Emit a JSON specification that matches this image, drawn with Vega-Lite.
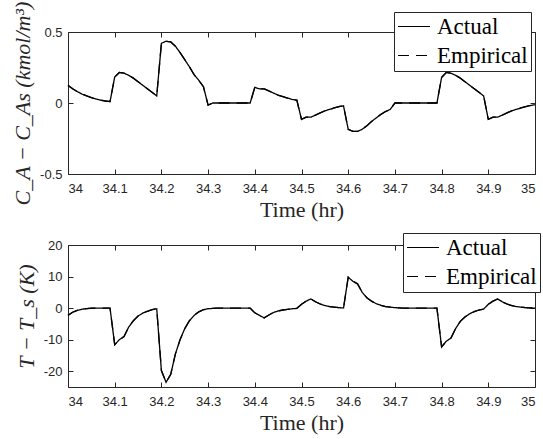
{
  "$schema": "https://vega.github.io/schema/vega-lite/v6.json",
  "background": "white",
  "padding": {"left": 11, "top": 0, "right": 5, "bottom": 3},
  "spacing": 11,
  "datasets": {
    "d": [
      {"t": 34.00, "ca": 0.124, "T": -2.3},
      {"t": 34.01, "ca": 0.10, "T": -1.3},
      {"t": 34.02, "ca": 0.08, "T": -0.7},
      {"t": 34.03, "ca": 0.063, "T": -0.35},
      {"t": 34.04, "ca": 0.05, "T": -0.15},
      {"t": 34.05, "ca": 0.038, "T": -0.05},
      {"t": 34.06, "ca": 0.028, "T": 0},
      {"t": 34.07, "ca": 0.02, "T": 0},
      {"t": 34.08, "ca": 0.014, "T": 0},
      {"t": 34.09, "ca": 0.01, "T": 0},
      {"t": 34.10, "ca": 0.183, "T": -11.6},
      {"t": 34.11, "ca": 0.215, "T": -10},
      {"t": 34.12, "ca": 0.21, "T": -9},
      {"t": 34.13, "ca": 0.195, "T": -6},
      {"t": 34.14, "ca": 0.175, "T": -4},
      {"t": 34.15, "ca": 0.15, "T": -2.5},
      {"t": 34.16, "ca": 0.125, "T": -1.6},
      {"t": 34.17, "ca": 0.1, "T": -1.0},
      {"t": 34.18, "ca": 0.075, "T": -0.5},
      {"t": 34.19, "ca": 0.05, "T": -0.2},
      {"t": 34.20, "ca": 0.42, "T": -19.8},
      {"t": 34.21, "ca": 0.435, "T": -23.5},
      {"t": 34.22, "ca": 0.43, "T": -21},
      {"t": 34.23, "ca": 0.40, "T": -14.5},
      {"t": 34.24, "ca": 0.355, "T": -10},
      {"t": 34.25, "ca": 0.305, "T": -6.5},
      {"t": 34.26, "ca": 0.255, "T": -4},
      {"t": 34.27, "ca": 0.2, "T": -2.3},
      {"t": 34.28, "ca": 0.16, "T": -1.2},
      {"t": 34.29, "ca": 0.115, "T": -0.5},
      {"t": 34.30, "ca": -0.015, "T": -0.2},
      {"t": 34.31, "ca": 0, "T": -0.1},
      {"t": 34.32, "ca": 0, "T": 0},
      {"t": 34.33, "ca": 0, "T": 0},
      {"t": 34.34, "ca": 0, "T": 0},
      {"t": 34.35, "ca": 0, "T": 0},
      {"t": 34.36, "ca": 0, "T": 0},
      {"t": 34.37, "ca": 0, "T": 0},
      {"t": 34.38, "ca": 0, "T": 0},
      {"t": 34.39, "ca": 0, "T": 0},
      {"t": 34.40, "ca": 0.11, "T": -1.5},
      {"t": 34.41, "ca": 0.1, "T": -2.3},
      {"t": 34.42, "ca": 0.1, "T": -3.1},
      {"t": 34.43, "ca": 0.085, "T": -2.2},
      {"t": 34.44, "ca": 0.07, "T": -1.4},
      {"t": 34.45, "ca": 0.055, "T": -0.9},
      {"t": 34.46, "ca": 0.045, "T": -0.6},
      {"t": 34.47, "ca": 0.035, "T": -0.4},
      {"t": 34.48, "ca": 0.025, "T": -0.2},
      {"t": 34.49, "ca": 0.02, "T": -0.1},
      {"t": 34.50, "ca": -0.115, "T": 1.2},
      {"t": 34.51, "ca": -0.1, "T": 2.2},
      {"t": 34.52, "ca": -0.1, "T": 2.9},
      {"t": 34.53, "ca": -0.085, "T": 2.0},
      {"t": 34.54, "ca": -0.07, "T": 1.3},
      {"t": 34.55, "ca": -0.055, "T": 0.8},
      {"t": 34.56, "ca": -0.045, "T": 0.5},
      {"t": 34.57, "ca": -0.035, "T": 0.3},
      {"t": 34.58, "ca": -0.025, "T": 0.15},
      {"t": 34.59, "ca": -0.02, "T": 0.05},
      {"t": 34.60, "ca": -0.185, "T": 9.8},
      {"t": 34.61, "ca": -0.2, "T": 8.5},
      {"t": 34.62, "ca": -0.2, "T": 7.7},
      {"t": 34.63, "ca": -0.185, "T": 5},
      {"t": 34.64, "ca": -0.16, "T": 3.3},
      {"t": 34.65, "ca": -0.13, "T": 2.2},
      {"t": 34.66, "ca": -0.105, "T": 1.4},
      {"t": 34.67, "ca": -0.08, "T": 0.9},
      {"t": 34.68, "ca": -0.06, "T": 0.5},
      {"t": 34.69, "ca": -0.045, "T": 0.3},
      {"t": 34.70, "ca": 0, "T": 0.15},
      {"t": 34.71, "ca": 0, "T": 0.05},
      {"t": 34.72, "ca": 0, "T": 0},
      {"t": 34.73, "ca": 0, "T": 0},
      {"t": 34.74, "ca": 0, "T": 0},
      {"t": 34.75, "ca": 0, "T": 0},
      {"t": 34.76, "ca": 0, "T": 0},
      {"t": 34.77, "ca": 0, "T": 0},
      {"t": 34.78, "ca": 0, "T": 0},
      {"t": 34.79, "ca": 0, "T": 0},
      {"t": 34.80, "ca": 0.18, "T": -12.3},
      {"t": 34.81, "ca": 0.215, "T": -10.5},
      {"t": 34.82, "ca": 0.21, "T": -9.5},
      {"t": 34.83, "ca": 0.195, "T": -6.5},
      {"t": 34.84, "ca": 0.175, "T": -4.2},
      {"t": 34.85, "ca": 0.15, "T": -2.8},
      {"t": 34.86, "ca": 0.125, "T": -1.8},
      {"t": 34.87, "ca": 0.1, "T": -1.1},
      {"t": 34.88, "ca": 0.075, "T": -0.6},
      {"t": 34.89, "ca": 0.05, "T": -0.3},
      {"t": 34.90, "ca": -0.115, "T": 1.2},
      {"t": 34.91, "ca": -0.1, "T": 2.2},
      {"t": 34.92, "ca": -0.1, "T": 2.9},
      {"t": 34.93, "ca": -0.085, "T": 2.0},
      {"t": 34.94, "ca": -0.07, "T": 1.3},
      {"t": 34.95, "ca": -0.055, "T": 0.8},
      {"t": 34.96, "ca": -0.045, "T": 0.5},
      {"t": 34.97, "ca": -0.035, "T": 0.3},
      {"t": 34.98, "ca": -0.025, "T": 0.15},
      {"t": 34.99, "ca": -0.018, "T": 0.05},
      {"t": 35.00, "ca": -0.012, "T": 0}
    ]
  },
  "config": {
    "view": {"stroke": "#262626", "strokeWidth": 1},
    "axis": {
      "grid": false,
      "domain": false,
      "tickColor": "#262626",
      "tickSize": -5,
      "labelColor": "#262626",
      "labelFont": "Liberation Sans",
      "labelFontSize": 13,
      "titleFont": "Liberation Serif",
      "titleFontSize": 22,
      "titleFontWeight": "normal",
      "titleColor": "#262626"
    },
    "axisX": {"labelPadding": 13, "titlePadding": 4},
    "axisY": {"labelPadding": 11, "titlePadding": 5},
    "legend": {
      "orient": "none",
      "fillColor": "white",
      "strokeColor": "#262626",
      "padding": 3,
      "symbolType": "stroke",
      "symbolStrokeColor": "black",
      "symbolSize": 1024,
      "symbolStrokeWidth": 1.2,
      "labelFont": "Liberation Serif",
      "labelFontSize": 23,
      "labelColor": "black",
      "labelOffset": 6,
      "clipHeight": 23,
      "rowPadding": 5,
      "cornerRadius": 0
    }
  },
  "resolve": {"scale": {"strokeDash": "independent"}, "legend": {"strokeDash": "independent"}},
  "vconcat": [
    {
      "width": 467,
      "height": 142,
      "data": {"name": "d"},
      "resolve": {"axis": {"x": "independent", "y": "independent"}},
      "layer": [
        {
          "mark": {"type": "line", "color": "black", "strokeWidth": 1.3},
          "encoding": {
            "x": {"field": "t", "type": "quantitative", "scale": {"domain": [34, 35], "nice": false, "zero": false},
                  "axis": {"values": [34, 34.1, 34.2, 34.3, 34.4, 34.5, 34.6, 34.7, 34.8, 34.9, 35], "labelExpr": "'' + datum.value", "title": "Time (hr)"}},
            "y": {"field": "ca", "type": "quantitative", "scale": {"domain": [-0.5, 0.5], "nice": false},
                  "axis": {"values": [-0.5, 0, 0.5], "labelExpr": "'' + datum.value", "title": "C_A − C_As (kmol/m³)", "titleFontStyle": "italic"}},
            "strokeDash": {"datum": "Actual", "scale": {"domain": ["Actual", "Empirical"], "range": [[1, 0], [11, 7]]},
                           "legend": {"title": null, "legendX": 326, "legendY": -20}}
          }
        },
        {
          "mark": {"type": "line", "color": "black", "strokeWidth": 1.3},
          "encoding": {
            "x": {"field": "t", "type": "quantitative", "scale": {"domain": [34, 35], "nice": false, "zero": false},
                  "axis": {"orient": "top", "labels": false, "title": null, "values": [34, 34.1, 34.2, 34.3, 34.4, 34.5, 34.6, 34.7, 34.8, 34.9, 35]}},
            "y": {"field": "ca", "type": "quantitative", "scale": {"domain": [-0.5, 0.5], "nice": false},
                  "axis": {"orient": "right", "labels": false, "title": null, "values": [-0.5, 0, 0.5]}},
            "strokeDash": {"datum": "Empirical", "legend": {"title": null, "legendX": 326, "legendY": -20}}
          }
        }
      ]
    },
    {
      "width": 467,
      "height": 142,
      "data": {"name": "d"},
      "resolve": {"axis": {"x": "independent", "y": "independent"}},
      "layer": [
        {
          "mark": {"type": "line", "color": "black", "strokeWidth": 1.3},
          "encoding": {
            "x": {"field": "t", "type": "quantitative", "scale": {"domain": [34, 35], "nice": false, "zero": false},
                  "axis": {"values": [34, 34.1, 34.2, 34.3, 34.4, 34.5, 34.6, 34.7, 34.8, 34.9, 35], "labelExpr": "'' + datum.value", "title": "Time (hr)"}},
            "y": {"field": "T", "type": "quantitative", "scale": {"domain": [-25, 20], "nice": false},
                  "axis": {"values": [-20, -10, 0, 10, 20], "labelExpr": "'' + datum.value", "title": "T − T_s (K)", "titleFontStyle": "italic"}},
            "strokeDash": {"datum": "Actual", "scale": {"domain": ["Actual", "Empirical"], "range": [[1, 0], [11, 7]]},
                           "legend": {"title": null, "legendX": 335, "legendY": -12}}
          }
        },
        {
          "mark": {"type": "line", "color": "black", "strokeWidth": 1.3},
          "encoding": {
            "x": {"field": "t", "type": "quantitative", "scale": {"domain": [34, 35], "nice": false, "zero": false},
                  "axis": {"orient": "top", "labels": false, "title": null, "values": [34, 34.1, 34.2, 34.3, 34.4, 34.5, 34.6, 34.7, 34.8, 34.9, 35]}},
            "y": {"field": "T", "type": "quantitative", "scale": {"domain": [-25, 20], "nice": false},
                  "axis": {"orient": "right", "labels": false, "title": null, "values": [-20, -10, 0, 10, 20]}},
            "strokeDash": {"datum": "Empirical", "legend": {"title": null, "legendX": 335, "legendY": -12}}
          }
        }
      ]
    }
  ]
}
